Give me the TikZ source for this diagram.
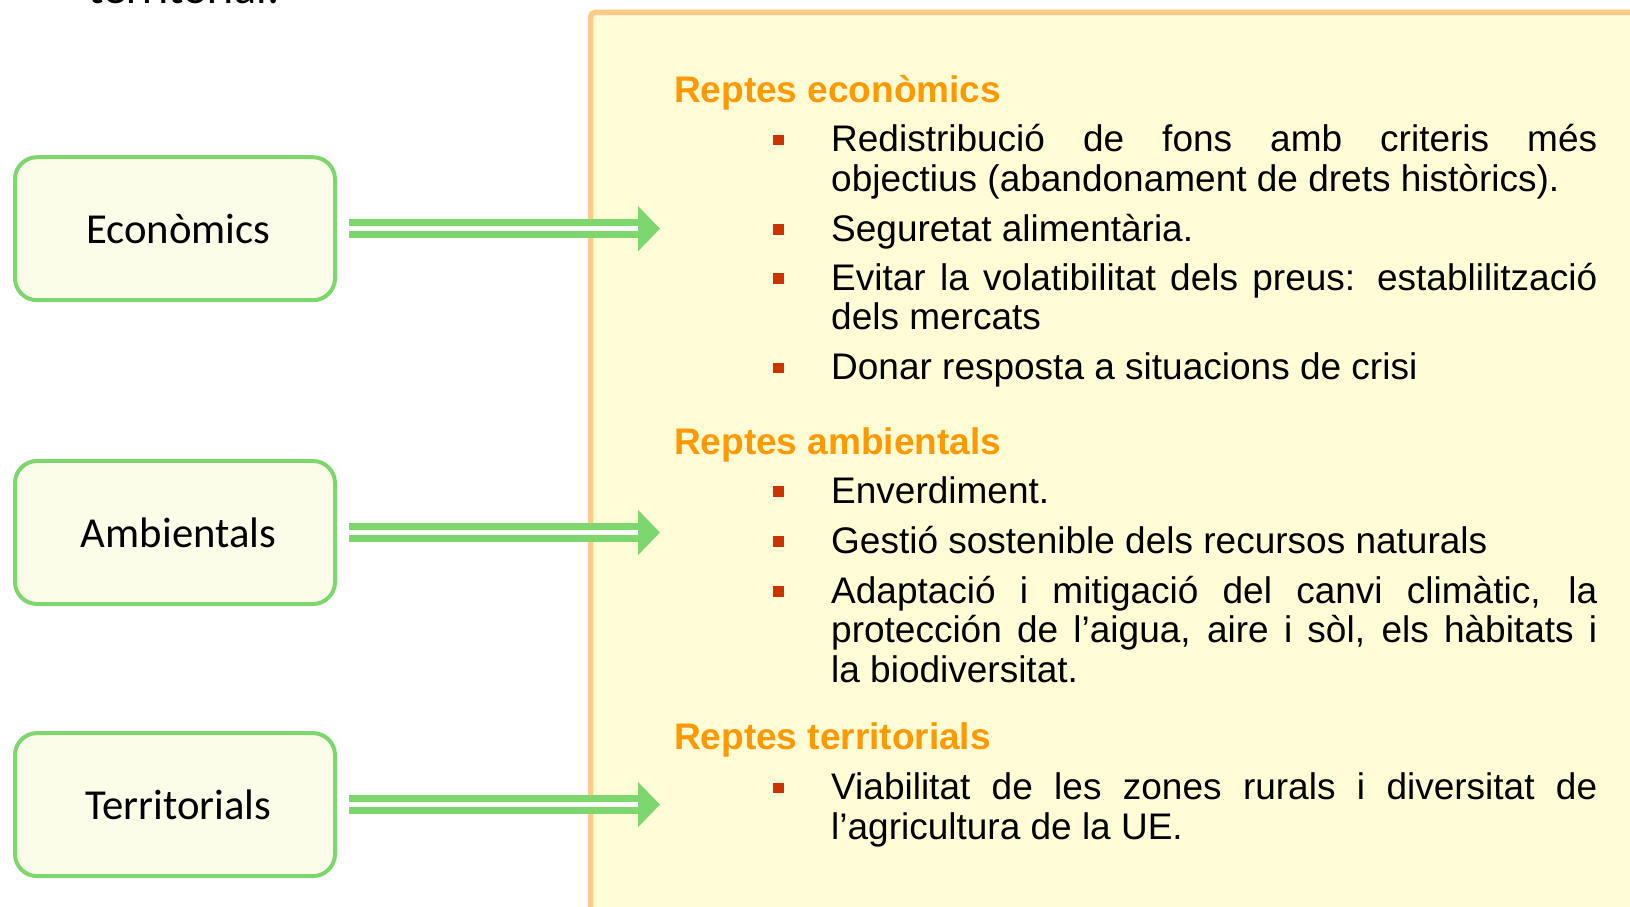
\documentclass[tikz,border=0pt]{standalone}
\usepackage{fontspec}
\setmainfont{Liberation Sans}
\newfontfamily\calibrifont{Carlito}
\usepackage{tikz}
\usetikzlibrary{arrows.meta}
\usetikzlibrary{shapes}

\definecolor{verdvora}{HTML}{7ED66E}
\definecolor{fonscaixa}{HTML}{FCFDE8}
\definecolor{vorapanell}{HTML}{FFCC88}
\definecolor{fonspanell}{HTML}{FFFCD6}
\definecolor{taronja}{HTML}{FF9900}
\definecolor{vermell}{HTML}{CC3300}

\begin{document}
\begin{tikzpicture}[x=1pt,y=1pt,line join=bevel,
  caixa/.style={draw=verdvora,line width=4pt,fill=fonscaixa,rounded corners=22pt,
    minimum width=320pt,minimum height=143pt,font=\calibrifont\fontsize{42.7}{48}\selectfont},
  fletxa/.style={draw=verdvora,line width=7pt,double=white,double distance=4.5pt,
    -{Triangle[width=44pt,length=22pt]}},
  titol/.style={anchor=base west,inner sep=0pt,text=taronja,
    font=\bfseries\fontsize{37}{39.5}\selectfont},
  punt/.style={fill=vermell,inner sep=0pt,minimum size=10.5pt},
  item/.style={anchor=base west,inner sep=0pt,text width=766pt,align=justify,
    font=\fontsize{37}{39.5}\selectfont}]
\clip (0,0) rectangle (1630,906);
%%
\node (node_frag) at (88,902) [anchor=base west,inner sep=0pt,font=\calibrifont\fontsize{46}{52}\selectfont] {territorial:};
\draw [draw=vorapanell,fill=fonspanell,line width=5.5pt,rounded corners=5pt] (590.5,-20) -- (590.5,893.7) -- (1660,893.7) -- (1660,-20) -- cycle;
%%
  \node (node_eco) at (175,677.3) [caixa] {\hspace*{7pt}Econòmics};
  \node (node_amb) at (175,373.5) [caixa] {\hspace*{7pt}Ambientals};
  \node (node_ter) at (175,101.4) [caixa] {\hspace*{7pt}Territorials};
  \coordinate (node_f1) at (660,677.3);
  \coordinate (node_f2) at (660,373.5);
  \coordinate (node_f3) at (660,101.4);
  \draw [fletxa] ([xshift=12pt]node_eco.east) -- (node_f1);
  \draw [fletxa] ([xshift=12pt]node_amb.east) -- (node_f2);
  \draw [fletxa] ([xshift=12pt]node_ter.east) -- (node_f3);
%%
  \node (node_h1) at (674,803.7) [titol] {Reptes econòmics};
  \node (node_b1) at (778.7,765.8) [punt] {};
  \node (node_i1) at (831,754) [item] {Redistribució de fons amb criteris més\linebreak objectius (abandonament de drets històrics).};
  \node (node_b2) at (778.7,676.4) [punt] {};
  \node (node_i2) at (831,664.6) [item] {Seguretat alimentària.};
  \node (node_b3) at (778.7,627.6) [punt] {};
  \node (node_i3) at (831,615.8) [item] {Evitar la volatibilitat dels preus: establilització\linebreak dels mercats};
  \node (node_b4) at (778.7,538.2) [punt] {};
  \node (node_i4) at (831,526.4) [item] {Donar resposta a situacions de crisi};
%%
  \node (node_h2) at (674,451.3) [titol] {Reptes ambientals};
  \node (node_b5) at (778.7,414.5) [punt] {};
  \node (node_i5) at (831,402.7) [item] {Enverdiment.};
  \node (node_b6) at (778.7,364.6) [punt] {};
  \node (node_i6) at (831,352.8) [item] {Gestió sostenible dels recursos naturals};
  \node (node_b7) at (778.7,314.7) [punt] {};
  \node (node_i7) at (831,302.9) [item] {Adaptació i mitigació del canvi climàtic, la\linebreak protección de l’aigua, aire i sòl, els hàbitats i\linebreak la biodiversitat.};
%%
  \node (node_h3) at (674,156.1) [titol] {Reptes territorials};
  \node (node_b8) at (778.7,118.2) [punt] {};
  \node (node_i8) at (831,106.4) [item] {Viabilitat de les zones rurals i diversitat de\linebreak l’agricultura de la UE.};
%
\end{tikzpicture}
\end{document}
